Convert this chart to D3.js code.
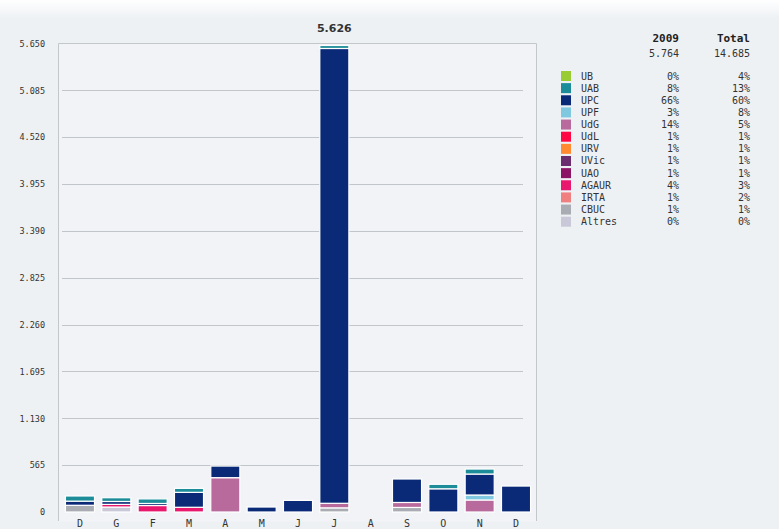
<!DOCTYPE html>
<html><head><meta charset="utf-8">
<script src="https://cdn.jsdelivr.net/npm/d3@7"></script>
<style>
html,body{margin:0;padding:0;background:#eef1f4;}
svg{display:block;}
</style></head>
<body>
<svg id="c" width="779" height="529"></svg>
<script>
// ---- data ----
const months = ["D","G","F","M","A","M","J","J","A","S","O","N","D"];
const institutions = ["UB","UAB","UPC","UPF","UdG","UdL","URV","UVic","UAO","AGAUR","IRTA","CBUC","Altres"];
const colors = ["#99cc33","#1b8c98","#0a2a78","#80c8e0","#b86a9c","#ff0844","#ff8a30","#6a2e6e","#8c1464","#e8186e","#f08080","#a9acb2","#c9c8d8"];
const UB    = [0,0,0,0,0,0,0,0,0,0,0,0,0];
const UAB   = [62,45,55,48,0,0,0,36,0,0,54,60,0];
const UPC   = [50,35,25,180,140,60,140,5485,0,283,280,253,313];
const UPF   = [0,0,0,0,0,0,0,0,0,0,0,60,0];
const UdG   = [0,0,0,0,414,0,0,55,0,60,0,145,0];
const UdL   = [0,0,0,0,0,0,0,0,0,0,0,0,0];
const URV   = [0,0,0,0,0,0,0,0,0,0,0,0,0];
const UVic  = [0,0,0,0,0,0,0,0,0,0,0,0,0];
const UAO   = [0,0,0,0,0,0,0,0,0,0,0,0,0];
const AGAUR = [0,32,78,57,0,0,0,0,0,0,0,0,0];
const IRTA  = [0,0,0,0,0,0,0,0,0,0,0,0,0];
const CBUC  = [81,0,0,0,0,0,0,50,0,55,0,0,0];
const Altres= [0,60,0,0,0,0,0,0,0,0,0,0,0];
const seriesValues = [UB,UAB,UPC,UPF,UdG,UdL,URV,UVic,UAO,AGAUR,IRTA,CBUC,Altres];
const yTicks = [0,565,1130,1695,2260,2825,3390,3955,4520,5085,5650];
const maxLabel = "5.626";
const headYear = "2009", headTotal = "Total";
const sumYear = "5.764", sumTotal = "14.685";
const pctYear  = ["0%","8%","66%","3%","14%","1%","1%","1%","1%","4%","1%","1%","0%"];
const pctTotal = ["4%","13%","60%","8%","5%","1%","1%","1%","1%","3%","2%","1%","0%"];

// ---- build ----
const svg = d3.select("#c");
const loc = d3.formatLocale({decimal:",",thousands:".",grouping:[3],currency:["",""]});
const fmt = loc.format(",d");

// background
const defs = svg.append("defs");
const g1 = defs.append("linearGradient").attr("id","bg").attr("x1",0).attr("y1",0).attr("x2",0).attr("y2",1);
g1.append("stop").attr("offset","0").attr("stop-color","#ffffff");
g1.append("stop").attr("offset","1").attr("stop-color","#eef1f4");
svg.append("rect").attr("width",779).attr("height",529).attr("fill","#eef1f4");
svg.append("rect").attr("width",779).attr("height",18).attr("fill","url(#bg)");

const x = d3.scaleBand().domain(d3.range(months.length)).range([61.8,534.2]).paddingInner(0.2).paddingOuter(0.1);
const y = d3.scaleLinear().domain([0,5650]).range([512,43.5]);

// plot area
svg.append("rect").attr("x",58.5).attr("y",43.5).attr("width",478).attr("height",478).attr("fill","#f1f3f6");
// gridlines
svg.append("g").selectAll("line").data(yTicks.filter(d=>d>0 && d<5650)).join("line")
  .attr("x1",62).attr("x2",523).attr("y1",d=>Math.round(y(d))+0.5).attr("y2",d=>Math.round(y(d))+0.5)
  .attr("stroke","#c2c6cb").attr("stroke-width",1);
// frame
svg.append("path").attr("d","M58.5,521V43.5H536.5V521").attr("fill","none").attr("stroke","#c3c7cc");

// y axis
const yAxis = d3.axisLeft(y).tickValues(yTicks).tickFormat(fmt).tickSize(0).tickPadding(0);
const ya = svg.append("g").attr("transform","translate(45,0)").call(yAxis);
ya.select(".domain").remove();
ya.selectAll("text").attr("font-family","DejaVu Sans Mono").attr("font-size","8.5px").attr("fill","#333");

// x axis
const xAxis = d3.axisBottom(x).tickFormat(i=>months[i]).tickSize(0).tickPadding(0);
const xa = svg.append("g").attr("transform","translate(0,520)").call(xAxis);
xa.select(".domain").remove();
xa.selectAll("text").attr("font-family","DejaVu Sans Mono").attr("font-size","10px").attr("fill","#333");

// stacked bars (bottom = last in legend)
const table = months.map((m,i)=>{ const o={idx:i}; institutions.forEach((k,j)=>o[k]=seriesValues[j][i]); return o;});
const stackKeys = institutions.slice().reverse();
const stacked = d3.stack().keys(stackKeys)(table);
const color = d3.scaleOrdinal().domain(institutions).range(colors);
svg.append("g").selectAll("g").data(stacked).join("g").attr("fill",d=>color(d.key))
  .selectAll("rect").data(d=>d.filter(s=>s[1]-s[0]>0)).join("rect")
  .attr("x",d=>x(d.data.idx)).attr("width",x.bandwidth())
  .attr("y",d=>y(d[1])).attr("height",d=>y(d[0])-y(d[1]))
  .attr("stroke","#ffffff").attr("stroke-width",1.2);

// max label
const totals = table.map(d=>d3.sum(institutions,k=>d[k]));
const imax = d3.maxIndex(totals);
svg.append("text").attr("x",x(imax)+x.bandwidth()/2).attr("y",32).attr("text-anchor","middle")
  .attr("font-family","DejaVu Sans").attr("font-weight","bold").attr("font-size","11px").attr("fill","#333").text(maxLabel);

// legend table
const colY = 679, colT = 750;
const hdr = svg.append("g").attr("font-family","DejaVu Sans Mono").attr("fill","#222").attr("text-anchor","end");
hdr.append("text").attr("x",colY).attr("y",42).attr("font-weight","bold").attr("font-size","11px").text(headYear);
hdr.append("text").attr("x",colT).attr("y",42).attr("font-weight","bold").attr("font-size","11px").text(headTotal);
hdr.append("text").attr("x",colY).attr("y",57).attr("font-size","10px").attr("fill","#333").text(sumYear);
hdr.append("text").attr("x",colT).attr("y",57).attr("font-size","10px").attr("fill","#333").text(sumTotal);

const ly = d3.scalePoint().domain(institutions).range([76,221.7]);
const rows = svg.append("g").selectAll("g").data(institutions).join("g")
  .attr("transform",d=>`translate(0,${ly(d)})`);
rows.append("rect").attr("x",561).attr("y",-5).attr("width",10).attr("height",10).attr("fill",d=>color(d));
rows.append("text").attr("x",581).attr("y",3.5).attr("font-family","DejaVu Sans Mono").attr("font-size","10px").attr("fill","#333").text(d=>d);
rows.append("text").attr("x",colY).attr("y",3.5).attr("text-anchor","end").attr("font-family","DejaVu Sans Mono").attr("font-size","10px").attr("fill","#333").text((d,i)=>pctYear[i]);
rows.append("text").attr("x",colT).attr("y",3.5).attr("text-anchor","end").attr("font-family","DejaVu Sans Mono").attr("font-size","10px").attr("fill","#333").text((d,i)=>pctTotal[i]);
</script>
</body></html>
